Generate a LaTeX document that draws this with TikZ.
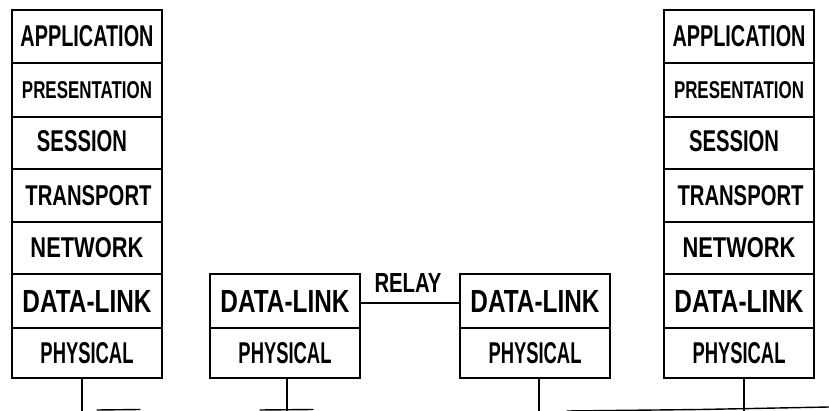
\documentclass[tikz,border=0pt]{standalone}
\usepackage{fontspec}
\setmainfont{Liberation Sans}
\usepackage{graphicx}

% text squeezed to a given width and cap height (in pt)
\newcommand\layertext[3]{\resizebox{#1pt}{#2pt}{\bfseries #3}}

\begin{document}
\begin{tikzpicture}[x=1pt,y=-1pt,
  layer/.style={draw=black, line width=2.6pt, minimum width=150pt,
                inner sep=0pt, outer sep=0pt, anchor=north west},
  drop/.style={line width=1.1pt},
  relayline/.style={line width=1.4pt},
  wire/.style={line width=1.4pt, line cap=round}]
\useasboundingbox (0,0) rectangle (829,411);

% full seven-layer stack: #1 = left edge, #2 = name prefix
\newcommand\fullstack[2]{%
  \node[layer, minimum height=53pt] (#2app) at (#1,10) {\layertext{133}{21}{APPLICATION}};
  \node[layer, minimum height=54pt] (#2pre) at (#1,63) {\layertext{130}{17}{PRESENTATION}};
  \node[layer, minimum height=52pt] (#2ses) at (#1,117) {\raisebox{3pt}{\hspace*{-10pt}\layertext{90}{21}{SESSION}}};
  \node[layer, minimum height=53pt] (#2tra) at (#1,169) {\hspace*{3pt}\layertext{126}{20}{TRANSPORT}};
  \node[layer, minimum height=52pt] (#2net) at (#1,222) {\layertext{113}{20}{NETWORK}};
  \node[layer, minimum height=54pt] (#2dl) at (#1,274) {\layertext{129}{22}{DATA-LINK}};
  \node[layer, minimum height=50pt] (#2phy) at (#1,328) {\layertext{93}{21}{PHYSICAL}};
}
% two-layer relay stack
\newcommand\relaystack[2]{%
  \node[layer, minimum height=54pt] (#2dl) at (#1,274) {\layertext{129}{22}{DATA-LINK}};
  \node[layer, minimum height=50pt] (#2phy) at (#1,328) {\layertext{93}{21}{PHYSICAL}};
}

\fullstack{12}{l}
\relaystack{210}{m}
\relaystack{460}{n}
\fullstack{664}{r}

% relay link between the two middle data-link layers
\draw[relayline] ([yshift=-2pt]mdl.east) -- ([yshift=-2pt]ndl.west);
\node (relay) at (408,283) {\layertext{67}{19}{RELAY}};

% drops from each physical layer to the medium
\coordinate (lg) at (82,411);
\coordinate (mg) at (287,411);
\coordinate (ng) at (539,411);
\coordinate (rg) at (744,411);
\draw[drop] (lphy.south -| lg) -- (lg);
\draw[drop] (mphy.south -| mg) -- (mg);
\draw[drop] (nphy.south -| ng) -- (ng);
\draw[drop] (rphy.south -| rg) -- (rg);

% the medium along the lower edge
\draw[wire] (97,410) -- (140,409.5);
\draw[wire] (260,410) -- (313,409.5);
\draw[wire] (567,411) -- (700,409.5) -- (829,407);
\end{tikzpicture}
\end{document}
